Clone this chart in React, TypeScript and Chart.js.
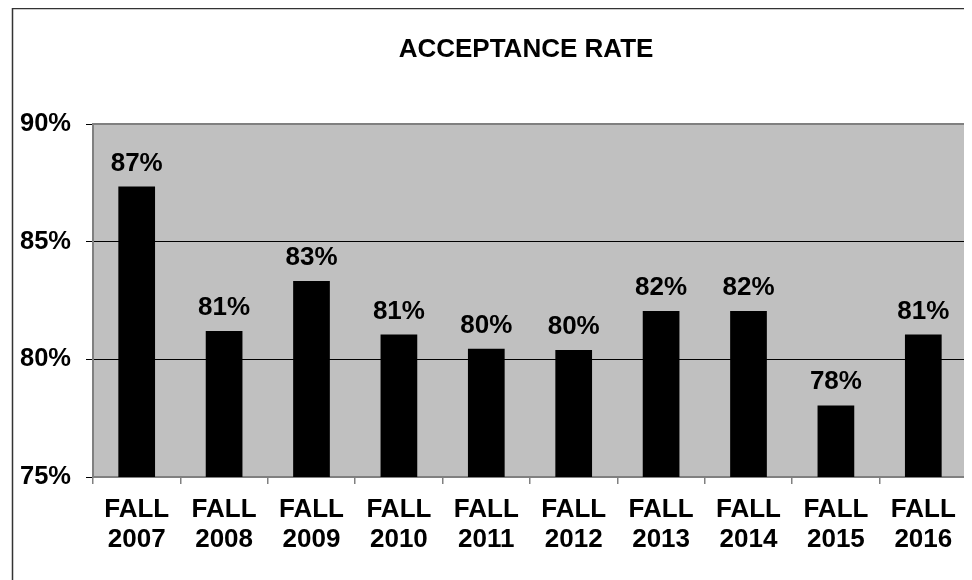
import React, { useEffect, useRef } from "react";
import { Chart, registerables } from "chart.js";

Chart.register(...registerables);

const categories: string[][] = [
  ["FALL", "2007"], ["FALL", "2008"], ["FALL", "2009"], ["FALL", "2010"], ["FALL", "2011"],
  ["FALL", "2012"], ["FALL", "2013"], ["FALL", "2014"], ["FALL", "2015"], ["FALL", "2016"],
];
const acceptanceRate: number[] = [87.34, 81.2, 83.33, 81.05, 80.45, 80.4, 82.05, 82.05, 78.04, 81.05];
const yTicks: number[] = [75, 80, 85, 90];
const chartTitle = "ACCEPTANCE RATE";

const FONT = "'Liberation Sans', Arial, sans-serif";

export default function App() {
  const ref = useRef<HTMLCanvasElement | null>(null);

  useEffect(() => {
    if (!ref.current) return;
    const decor = {
      id: "decor",
      beforeDraw(chart: any) {
        const { ctx, chartArea: a } = chart;
        ctx.save();
        ctx.fillStyle = "#C0C0C0";
        ctx.fillRect(a.left, a.top, a.right - a.left, a.bottom - a.top);
        // outer frame
        ctx.strokeStyle = "#333";
        ctx.lineWidth = 1.5;
        ctx.beginPath();
        ctx.moveTo(4.5, chart.height);
        ctx.lineTo(4.5, 0.5);
        ctx.lineTo(chart.width, 0.5);
        ctx.stroke();
        // title
        ctx.fillStyle = "#000";
        ctx.font = `bold 26px ${FONT}`;
        ctx.textAlign = "center";
        ctx.textBaseline = "alphabetic";
        ctx.fillText(chartTitle, (a.left + a.right) / 2 - 4, 49);
        ctx.restore();
      },
      beforeDatasetsDraw(chart: any) {
        const { ctx, chartArea: a } = chart;
        ctx.save();
        ctx.strokeStyle = "#808080";
        ctx.lineWidth = 2;
        ctx.strokeRect(a.left, a.top, a.right - a.left, a.bottom - a.top);
        ctx.restore();
      },
      afterDatasetsDraw(chart: any) {
        const { ctx } = chart;
        const meta = chart.getDatasetMeta(0);
        ctx.save();
        ctx.fillStyle = "#000";
        ctx.font = `bold 26px ${FONT}`;
        ctx.textAlign = "center";
        ctx.textBaseline = "alphabetic";
        meta.data.forEach((bar: any, i: number) => {
          ctx.fillText(Math.round(acceptanceRate[i]) + "%", bar.x, bar.y - 16);
        });
        ctx.restore();
      },
    };

    const chart = new Chart(ref.current, {
      type: "bar",
      data: {
        labels: categories,
        datasets: [
          {
            data: acceptanceRate,
            backgroundColor: "#000",
            borderWidth: 0,
            categoryPercentage: 1,
            barPercentage: 0.42,
          },
        ],
      },
      plugins: [decor],
      options: {
        responsive: false,
        animation: false,
        layout: { padding: { left: 0, top: 116, right: 5, bottom: 0 } },
        plugins: {
          legend: { display: false },
          title: { display: false },
          tooltip: { enabled: false },
        },
        scales: {
          x: {
            border: { display: false },
            grid: {
              drawOnChartArea: false,
              drawTicks: true,
              tickLength: 7,
              tickColor: "#808080",
              lineWidth: 1.5,
              offset: true,
            },
            ticks: {
              color: "#000",
              font: { family: FONT, size: 26, weight: "bold", lineHeight: 1.15 },
              padding: 11,
              maxRotation: 0,
              autoSkip: false,
            },
            afterFit(scale: any) {
              scale.height = 103;
            },
          },
          y: {
            min: 75,
            max: 90,
            border: { display: false },
            afterBuildTicks(scale: any) {
              scale.ticks = yTicks.map((v) => ({ value: v }));
            },
            grid: {
              color: (c: any) =>
                c.tick && (c.tick.value === 80 || c.tick.value === 85) ? "#000" : "rgba(0,0,0,0)",
              tickColor: "#000",
              tickLength: 7,
              lineWidth: 1,
            },
            ticks: {
              color: "#000",
              font: { family: FONT, size: 25.5, weight: "bold" },
              padding: 15,
              callback: (v: any) => v + "%",
            },
            afterFit(scale: any) {
              scale.width = 85;
            },
          },
        },
      },
    });
    return () => chart.destroy();
  }, []);

  return <canvas ref={ref} width={964} height={572} style={{ display: "block" }} />;
}
